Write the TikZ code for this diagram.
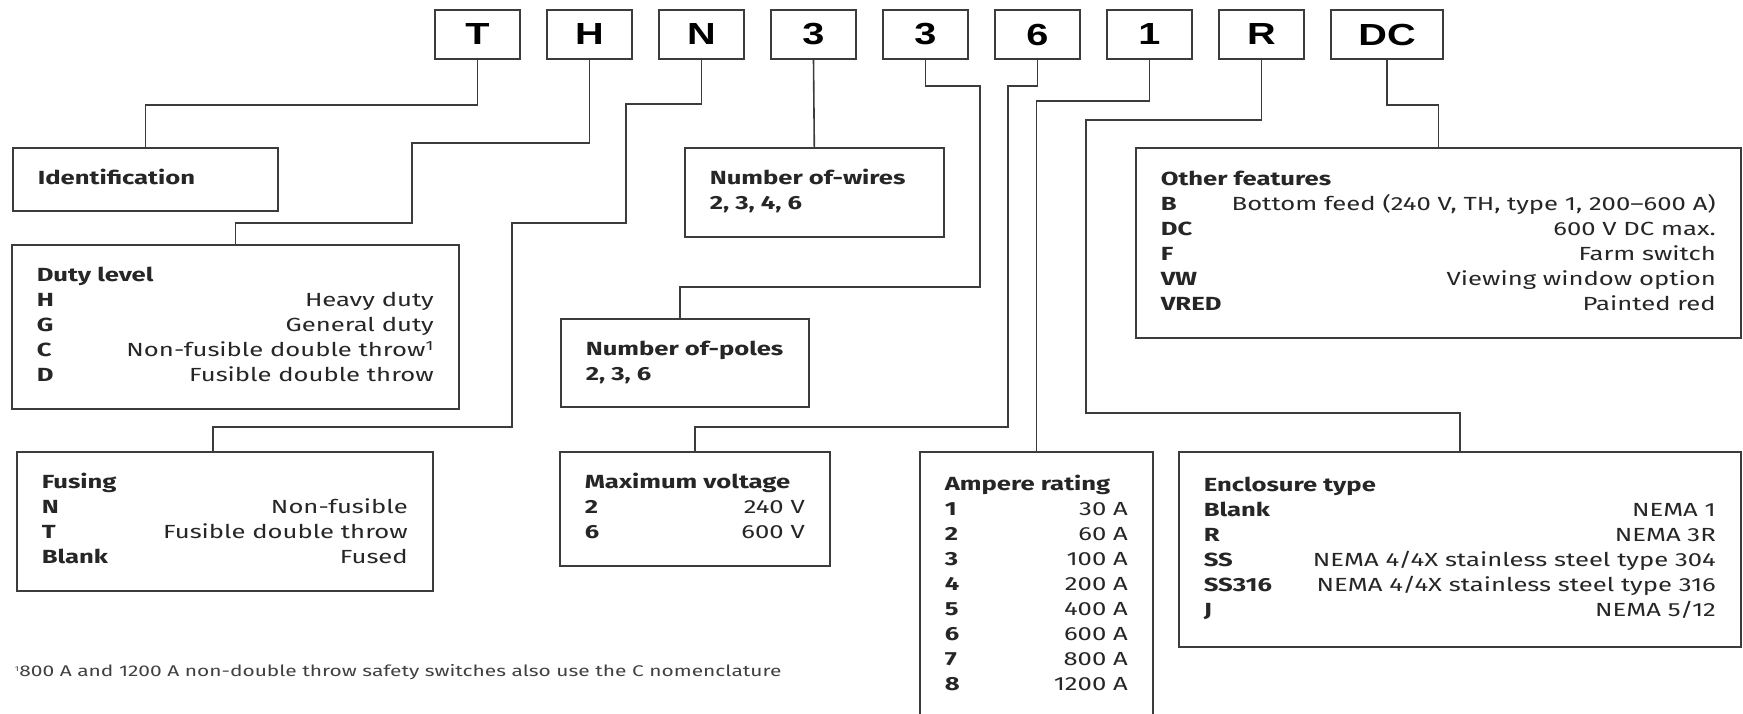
\documentclass[tikz,border=0pt]{standalone}
\usepackage{fontspec}
\setmainfont[FakeStretch=1.35]{Fira Sans}
\newfontfamily\letterfont[FakeStretch=1.3]{Liberation Sans}
\definecolor{linegray}{HTML}{3C3C3C}
\definecolor{textgray}{HTML}{262626}
\definecolor{notegray}{HTML}{404040}
\newcommand{\panelrows}[2]{\begin{tabular*}{#1}{@{}l@{\extracolsep{\fill}}r@{}}#2\end{tabular*}}
\newcommand{\panelhead}[1]{\multicolumn{2}{@{}l@{}}{\textbf{#1}}}

\begin{document}
\begin{tikzpicture}[x = 1pt, y = -1pt, line width = 1.6pt,
            panel/.style = {draw = linegray, anchor = north west, inner sep = 0pt, text = textgray, font = \fontsize{19}{25}\selectfont},
            letterbox/.style = {draw = linegray, minimum width = 85pt, minimum height = 49pt, inner sep = 0pt, font = \letterfont\bfseries\fontsize{30.5}{30.5}\selectfont}]
            \useasboundingbox (0, 0) rectangle (1743, 713);
            \clip (0, 0) rectangle (1743, 713);

            \node[letterbox] (T) at (477.5, 34.5) {T};
            \node[letterbox] (H) at (589.5, 34.5) {H};
            \node[letterbox] (N) at (701.5, 34.5) {N};
            \node[letterbox] (n3a) at (813.5, 34.5) {3};
            \node[letterbox] (n3b) at (925.5, 34.5) {3};
            \node[letterbox] (n6) at (1037.5, 34.5) {6};
            \node[letterbox] (n1) at (1149.5, 34.5) {1};
            \node[letterbox] (nR) at (1261.5, 34.5) {R};
            \node[letterbox, minimum width = 112pt] (nDC) at (1387, 34.5) {DC};

            \node[panel, minimum width = 265pt, minimum height = 63pt] (ident) at (12, 147)
                {\panelrows{215pt}{\panelhead{Identification}}};
            \node[panel, minimum width = 447pt, minimum height = 164pt] (duty) at (11, 244)
                {\panelrows{397pt}{\panelhead{Duty level}\\ \textbf{H} & Heavy duty\\ \textbf{G} & General duty\\
                 \textbf{C} & Non-fusible double throw\textsuperscript{1}\\ \textbf{D} & Fusible double throw}};
            \node[panel, minimum width = 416pt, minimum height = 139pt] (fusing) at (16, 451)
                {\panelrows{366pt}{\panelhead{Fusing}\\ \textbf{N} & Non-fusible\\ \textbf{T} & Fusible double throw\\
                 \textbf{Blank} & Fused}};
            \node[panel, minimum width = 259pt, minimum height = 89pt] (wires) at (684, 147)
                {\panelrows{209pt}{\panelhead{Number of-wires}\\ \panelhead{2, 3, 4, 6}}};
            \node[panel, minimum width = 248pt, minimum height = 88pt] (poles) at (560, 318)
                {\panelrows{198pt}{\panelhead{Number of-poles}\\ \panelhead{2, 3, 6}}};
            \node[panel, minimum width = 270pt, minimum height = 114pt] (volt) at (559, 451)
                {\panelrows{220pt}{\panelhead{Maximum voltage}\\ \textbf{2} & 240 V\\ \textbf{6} & 600 V}};
            \node[panel, minimum width = 233pt, minimum height = 267pt] (amp) at (919, 451)
                {\panelrows{183pt}{\panelhead{Ampere rating}\\ \textbf{1} & 30 A\\ \textbf{2} & 60 A\\ \textbf{3} & 100 A\\
                 \textbf{4} & 200 A\\ \textbf{5} & 400 A\\ \textbf{6} & 600 A\\ \textbf{7} & 800 A\\ \textbf{8} & 1200 A}};
            \node[panel, minimum width = 605pt, minimum height = 190pt] (other) at (1135, 147)
                {\panelrows{555pt}{\panelhead{Other features}\\ \textbf{B} & Bottom feed (240 V, TH, type 1, 200--600 A)\\
                 \textbf{DC} & 600 V DC max.\\ \textbf{F} & Farm switch\\ \textbf{VW} & Viewing window option\\
                 \textbf{VRED} & Painted red}};
            \node[panel, minimum width = 562pt, minimum height = 195pt] (encl) at (1178, 451)
                {\panelrows{512pt}{\panelhead{Enclosure type}\\ \textbf{Blank} & NEMA 1\\ \textbf{R} & NEMA 3R\\
                 \textbf{SS} & NEMA 4/4X stainless steel type 304\\ \textbf{SS316} & NEMA 4/4X stainless steel type 316\\
                 \textbf{J} & NEMA 5/12}};

            \draw[linegray] (T.south) -- ++(0, 45) -| (ident.north);
            \draw[linegray] (H.south) -- ++(0, 83) -| (412, 223) -| (duty.north);
            \draw[linegray] (N.south) -- ++(0, 44) -| (626, 223) -| (512, 427) -| ([xshift = -12pt]fusing.north);
            \draw[linegray] (n3a.south) -- (wires.north);
            \draw[linegray] (n3b.south) -- ++(0, 26) -| (980, 287) -| ([xshift = -5pt]poles.north);
            \draw[linegray] (n6.south) -- ++(0, 26) -| (1008, 427) -| (volt.north);
            \draw[linegray] (n1.south) -- ++(0, 41) -| (amp.north);
            \draw[linegray] (nR.south) -- ++(0, 60) -| (1086, 413) -| (encl.north);
            \draw[linegray] (nDC.south) -- ++(0, 45) -| (other.north);

            \node[anchor = west, inner sep = 0pt, text = notegray, font = \fontsize{15.5}{18}\selectfont] (note) at (14, 672)
                {\textsuperscript{\scriptsize 1}800 A and 1200 A non-double throw safety switches also use the C nomenclature};
        \end{tikzpicture}
\end{document}
